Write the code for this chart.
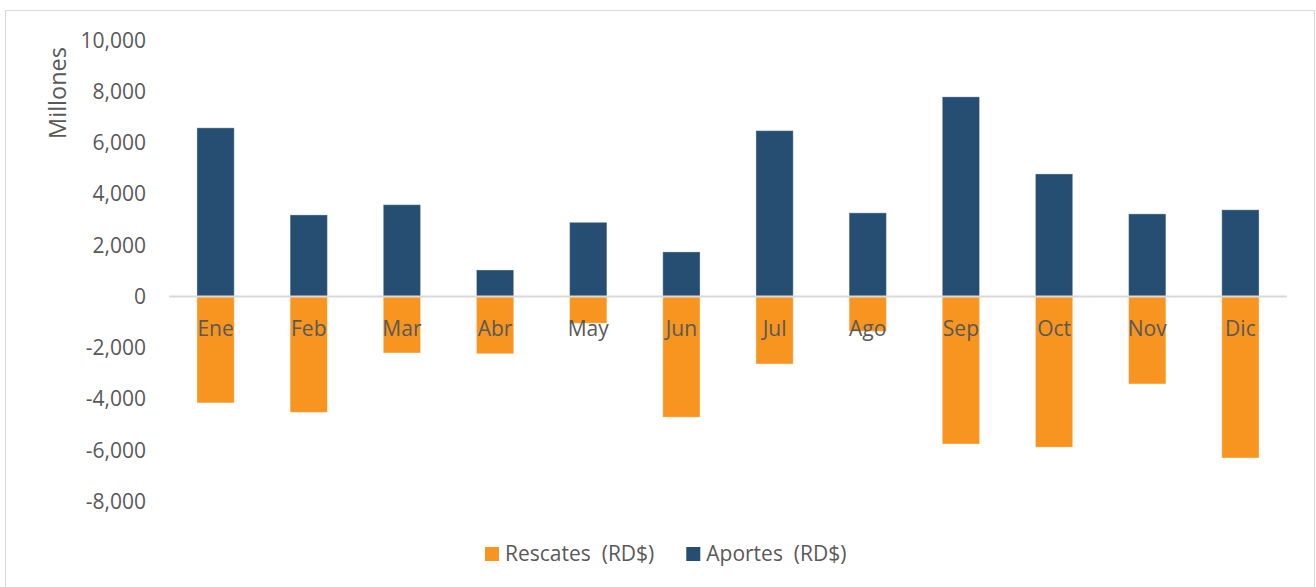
<!DOCTYPE html>
<html>
<head>
<meta charset="utf-8">
<script src="https://cdn.jsdelivr.net/npm/d3@7"></script>
<style>
  body { margin: 0; background: #fff; }
  text { font-family: "Open Sans", sans-serif; fill: #595959; }
</style>
</head>
<body>
<div id="chart"></div>
<script>
const months = ["Ene", "Feb", "Mar", "Abr", "May", "Jun", "Jul", "Ago", "Sep", "Oct", "Nov", "Dic"];
const aportes = [6590, 3190, 3590, 1040, 2900, 1745, 6480, 3270, 7800, 4790, 3230, 3390];
const rescates = [-4150, -4520, -2200, -2230, -1040, -4710, -2630, -1355, -5755, -5880, -3410, -6300];
const yTicks = [-8000, -6000, -4000, -2000, 0, 2000, 4000, 6000, 8000, 10000];

const blue = "#264e72";
const orange = "#f79520";

let dimensions = {
  width: 1316,
  height: 587,
  margin: { top: 40.5, right: 29, bottom: 85.5, left: 169 },
};
dimensions.boundedWidth = dimensions.width - dimensions.margin.left - dimensions.margin.right;
dimensions.boundedHeight = dimensions.height - dimensions.margin.top - dimensions.margin.bottom;

const wrapper = d3
  .select("#chart")
  .append("svg")
  .attr("width", dimensions.width)
  .attr("height", dimensions.height);

// outer chart border
wrapper
  .append("rect")
  .attr("x", 5.5)
  .attr("y", 10.5)
  .attr("width", 1309)
  .attr("height", 580)
  .attr("fill", "none")
  .attr("stroke", "#d9d9d9")
  .attr("stroke-width", 1);

const bounds = wrapper
  .append("g")
  .attr("transform", `translate(${dimensions.margin.left}, ${dimensions.margin.top})`);

// scales
const xScale = d3
  .scaleBand()
  .domain(months)
  .range([0, dimensions.boundedWidth])
  .paddingInner(0.6)
  .paddingOuter(0.3);

const yScale = d3
  .scaleLinear()
  .domain([-8000, 10000])
  .range([dimensions.boundedHeight, 0]);

// y axis (plain hyphen for negatives, like the original)
const fmt = d3.format(",");
const yAxisGenerator = d3
  .axisLeft(yScale)
  .tickValues(yTicks)
  .tickSize(0)
  .tickPadding(23)
  .tickFormat((d) => fmt(d).replace("\u2212", "-"));

const yAxis = bounds.append("g").call(yAxisGenerator);
yAxis.select(".domain").remove();
yAxis.selectAll("text").style("font-size", "21px").attr("fill", "#595959");

// bars
bounds
  .append("g")
  .selectAll("rect")
  .data(months)
  .join("rect")
  .attr("x", (d) => xScale(d))
  .attr("y", (d, i) => yScale(aportes[i]))
  .attr("width", xScale.bandwidth())
  .attr("height", (d, i) => yScale(0) - yScale(aportes[i]))
  .attr("fill", blue)
  .attr("stroke", "rgba(255,255,255,0.35)")
  .attr("stroke-width", 1);

bounds
  .append("g")
  .selectAll("rect")
  .data(months)
  .join("rect")
  .attr("x", (d) => xScale(d))
  .attr("y", yScale(0))
  .attr("width", xScale.bandwidth())
  .attr("height", (d, i) => yScale(rescates[i]) - yScale(0))
  .attr("fill", orange)
  .attr("stroke", "rgba(255,255,255,0.35)")
  .attr("stroke-width", 1);

// zero line
bounds
  .append("line")
  .attr("x1", 0)
  .attr("x2", dimensions.boundedWidth)
  .attr("y1", yScale(0))
  .attr("y2", yScale(0))
  .attr("stroke", "#d9d9d9")
  .attr("stroke-width", 2);

// category labels below the zero line
bounds
  .append("g")
  .selectAll("text")
  .data(months)
  .join("text")
  .attr("x", (d) => xScale(d) + xScale.bandwidth() / 2)
  .attr("y", yScale(0) + 39)
  .attr("text-anchor", "middle")
  .style("font-size", "21px")
  .text((d) => d);

// y axis title
wrapper
  .append("text")
  .attr("transform", "translate(66, 93) rotate(-90)")
  .attr("text-anchor", "middle")
  .style("font-size", "23.5px")
  .text("Millones");

// legend
const legendItems = [
  { label: "Rescates  (RD$)", color: orange },
  { label: "Aportes  (RD$)", color: blue },
];
const legend = wrapper.append("g").attr("transform", "translate(485, 547)");
let legendX = 0;
legendItems.forEach((item) => {
  const g = legend.append("g").attr("transform", `translate(${legendX}, 0)`);
  g.append("rect").attr("width", 14).attr("height", 14).attr("fill", item.color);
  const t = g
    .append("text")
    .attr("x", 20)
    .attr("y", 14)
    .style("font-size", "21px")
    .style("white-space", "pre")
    .attr("xml:space", "preserve")
    .text(item.label);
  legendX += 20 + t.node().getComputedTextLength() + 32;
});
</script>
</body>
</html>
